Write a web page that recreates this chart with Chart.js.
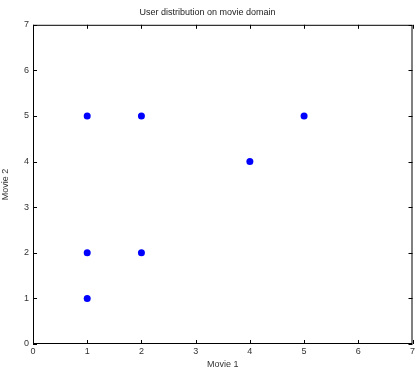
<!DOCTYPE html>
<html lang="en">
  <head>
    <meta charset="UTF-8" />
    <title>User distribution on movie domain</title>
    <script src="https://cdn.jsdelivr.net/npm/chart.js"></script>
    <style>
      body { margin: 0; background: #fff; }
      canvas { display: block; }
    </style>
  </head>
  <body>
    <canvas id="userChart" width="416" height="370"></canvas>
    <script>
      // User ratings: (movie 1, movie 2)
      const movie1 = [1, 2, 5, 4, 1, 2, 1];
      const movie2 = [5, 5, 5, 4, 2, 2, 1];
      const tickValues = [0, 1, 2, 3, 4, 5, 6, 7];

      const points = movie1.map((x, i) => ({ x: x, y: movie2[i] }));

      // MATLAB-style box with inward ticks on all four sides
      const boxTicks = {
        id: "boxTicks",
        afterDraw(chart) {
          const { ctx, chartArea: a, scales } = chart;
          const len = 4;
          ctx.save();
          ctx.strokeStyle = "#000";
          ctx.lineWidth = 1;
          ctx.beginPath();
          tickValues.forEach((v) => {
            const px = Math.round(scales.x.getPixelForValue(v)) + 0.5;
            ctx.moveTo(px, a.bottom);
            ctx.lineTo(px, a.bottom - len);
            ctx.moveTo(px, a.top);
            ctx.lineTo(px, a.top + len);
            const py = Math.round(scales.y.getPixelForValue(v)) + 0.5;
            ctx.moveTo(a.left, py);
            ctx.lineTo(a.left + len, py);
            ctx.moveTo(a.right, py);
            ctx.lineTo(a.right - len, py);
          });
          ctx.stroke();
          ctx.strokeRect(a.left + 0.5, a.top + 0.5, a.right - a.left - 1, a.bottom - a.top - 1);
          ctx.restore();
        },
      };

      new Chart(document.getElementById("userChart"), {
        type: "scatter",
        data: {
          datasets: [
            {
              data: points,
              backgroundColor: "#0000ff",
              borderColor: "#0000ff",
              borderWidth: 0,
              pointRadius: 3.5,
              pointHoverRadius: 3.5,
            },
          ],
        },
        options: {
          responsive: false,
          animation: false,
          layout: { padding: { left: 0, right: 1, top: 0, bottom: 0 } },
          scales: {
            x: {
              type: "linear",
              min: 0,
              max: 7,
              afterBuildTicks: (s) => { s.ticks = tickValues.map((v) => ({ value: v })); },
              afterFit: (s) => { s.height = 26; s.paddingRight = 0; s.paddingLeft = 0; },
              grid: { display: false, drawTicks: false },
              border: { display: false },
              ticks: { color: "#333", font: { family: "Liberation Sans", size: 9 }, padding: 2 },
              title: {
                display: true,
                text: "Movie 1",
                color: "#333",
                font: { family: "Liberation Sans", size: 9 },
                padding: { top: 0, bottom: 0 },
              },
            },
            y: {
              type: "linear",
              min: 0,
              max: 7,
              afterBuildTicks: (s) => { s.ticks = tickValues.map((v) => ({ value: v })); },
              afterFit: (s) => { s.width = 33; s.paddingTop = 0; s.paddingBottom = 0; },
              grid: { display: false, drawTicks: false },
              border: { display: false },
              ticks: { color: "#333", font: { family: "Liberation Sans", size: 9 }, padding: 4 },
              title: {
                display: true,
                text: "Movie 2",
                color: "#333",
                font: { family: "Liberation Sans", size: 9 },
                padding: { top: 0, bottom: 8 },
              },
            },
          },
          plugins: {
            legend: { display: false },
            tooltip: { enabled: false },
            title: {
              display: true,
              text: "User distribution on movie domain",
              color: "#222",
              font: { family: "Liberation Sans", size: 9, weight: "normal" },
              padding: { top: 7, bottom: 7 },
            },
          },
        },
        plugins: [boxTicks],
      });
    </script>
  </body>
</html>
